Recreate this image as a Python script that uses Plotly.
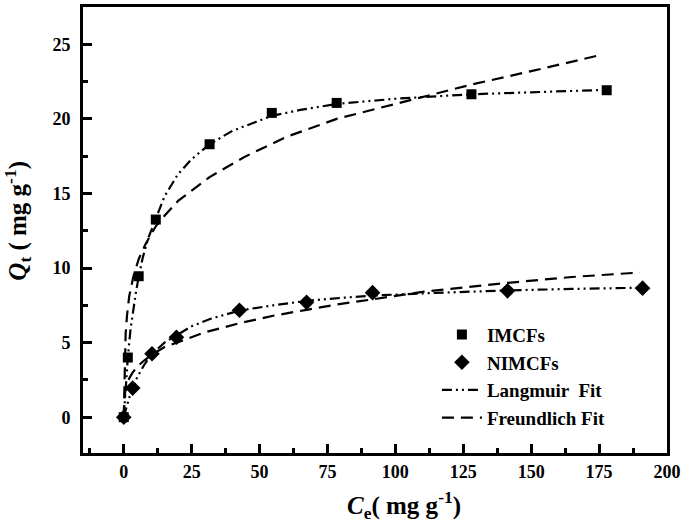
import plotly.graph_objects as go

# ---- data ----
ce_imcf = [0, 1.5, 5.5, 11.8, 31.6, 54.5, 78.4, 128, 177.8]
qt_imcf = [0, 4.0, 9.45, 13.25, 18.3, 20.4, 21.07, 21.65, 21.92]

ce_nimcf = [0, 3.3, 10.4, 19.4, 42.6, 67.3, 91.6, 141.3, 191]
qt_nimcf = [0, 1.95, 4.25, 5.36, 7.17, 7.7, 8.35, 8.47, 8.65]

# Langmuir fit curve (IMCFs)
lang_imcf_x = [0, 0.5, 1, 1.5, 2.5, 3.5, 4.5, 5.5, 7, 9, 11.8, 15, 20, 25, 31.6, 40,
               54.5, 65, 78.4, 100, 128, 150, 178]
lang_imcf_y = [0, 1.6, 2.9, 4.0, 5.9, 7.3, 8.4, 9.4, 10.7, 12.0, 13.3, 14.8, 16.3, 17.3,
               18.3, 19.2, 20.2, 20.6, 21.0, 21.35, 21.65, 21.8, 21.95]

# Freundlich fit curve (IMCFs)
freu_imcf_x = [0, 0.3, 0.7, 1.2, 2, 3.5, 5.5, 8, 11.8, 15, 20, 31.6, 45, 60, 78.4, 100,
               128, 150, 176]
freu_imcf_y = [0, 3.5, 5.6, 6.8, 8.1, 9.4, 10.6, 11.6, 12.8, 13.5, 14.5, 16.1, 17.5,
               18.8, 20.0, 21.0, 22.3, 23.2, 24.3]

# Langmuir fit curve (NIMCFs)
lang_nimcf_x = [0, 1, 2, 3.3, 5, 7.5, 10.4, 15, 19.5, 25, 32, 42.6, 55, 67.3, 80, 91.6,
                110, 141, 165, 191]
lang_nimcf_y = [0, 0.7, 1.3, 1.95, 2.7, 3.5, 4.25, 5.0, 5.5, 6.1, 6.6, 7.15, 7.5, 7.8,
                8.0, 8.15, 8.3, 8.5, 8.6, 8.68]

# Freundlich fit curve (NIMCFs)
freu_nimcf_x = [0, 0.5, 1, 2, 3.3, 5, 7.5, 10.4, 15, 20, 30, 42.6, 55, 67.3, 80, 91.6,
                110, 141, 165, 190]
freu_nimcf_y = [0, 1.7, 2.1, 2.6, 3.0, 3.4, 3.8, 4.2, 4.7, 5.05, 5.7, 6.3, 6.8, 7.2,
                7.6, 7.9, 8.4, 9.0, 9.4, 9.7]

x_ticks = [0, 25, 50, 75, 100, 125, 150, 175, 200]
y_ticks = [0, 5, 10, 15, 20, 25]

FONT = "Liberation Serif"
LANG_DASH = "10px,4px,2px,4px,2px,4px"
FREU_DASH = "12px,7px"

fig = go.Figure()

fig.add_trace(go.Scatter(x=lang_imcf_x, y=lang_imcf_y, mode="lines", name="<b>Langmuir  Fit</b>",
                         line=dict(color="black", width=2.2, dash=LANG_DASH),
                         legendgroup="lang", legendrank=3))
fig.add_trace(go.Scatter(x=lang_nimcf_x, y=lang_nimcf_y, mode="lines", name="<b>Langmuir  Fit</b>",
                         line=dict(color="black", width=2.2, dash=LANG_DASH),
                         legendgroup="lang", showlegend=False))
fig.add_trace(go.Scatter(x=freu_imcf_x, y=freu_imcf_y, mode="lines", name="<b>Freundlich Fit</b>",
                         line=dict(color="black", width=2.2, dash=FREU_DASH),
                         legendgroup="freu", legendrank=4))
fig.add_trace(go.Scatter(x=freu_nimcf_x, y=freu_nimcf_y, mode="lines", name="<b>Freundlich Fit</b>",
                         line=dict(color="black", width=2.2, dash=FREU_DASH),
                         legendgroup="freu", showlegend=False))
fig.add_trace(go.Scatter(x=ce_imcf, y=qt_imcf, mode="markers", name="<b>IMCFs</b>",
                         marker=dict(symbol="square", size=10, color="black"),
                         legendrank=1))
fig.add_trace(go.Scatter(x=ce_nimcf, y=qt_nimcf, mode="markers", name="<b>NIMCFs</b>",
                         marker=dict(symbol="diamond", size=12, color="black"),
                         legendrank=2))

axis_common = dict(showline=True, mirror=True, linecolor="black", linewidth=3,
                   ticks="inside", ticklen=9, tickwidth=2.5, tickcolor="black",
                   showgrid=False, zeroline=False,
                   tickfont=dict(family=FONT, size=18, color="black", weight="bold"))

fig.update_xaxes(range=[-15, 200], tickvals=x_ticks, ticktext=[str(v) for v in x_ticks],
                 minor=dict(ticks="inside", ticklen=5, tickwidth=2.5, dtick=12.5,
                            tick0=0, tickcolor="black"),
                 **axis_common)
fig.update_yaxes(range=[-2.4, 27.5], tickvals=y_ticks, ticktext=[str(v) for v in y_ticks],
                 minor=dict(ticks="inside", ticklen=5, tickwidth=2.5, dtick=2.5,
                            tick0=0, tickcolor="black"),
                 ticklabelstandoff=6,
                 **axis_common)

fig.update_layout(
    width=685, height=526,
    margin=dict(l=83, r=17, t=4, b=73),
    paper_bgcolor="white", plot_bgcolor="white",
    font=dict(family=FONT, color="black"),
    showlegend=True,
    legend=dict(x=0.606, y=0.308, xanchor="left", yanchor="top",
                font=dict(family=FONT, size=19, color="black"),
                bgcolor="rgba(0,0,0,0)", borderwidth=0,
                tracegroupgap=0, itemwidth=40),
    annotations=[
        dict(text="<b><i>C</i><sub>e</sub>( mg g<sup>-1</sup>)</b>",
             xref="paper", yref="paper", x=(405 - 83) / 585, y=(453 - 505) / 449,
             xanchor="center", yanchor="middle", showarrow=False,
             font=dict(family=FONT, size=25, color="black")),
        dict(text="<b><i>Q</i><sub>t</sub> ( mg g<sup>-1</sup>)</b>",
             xref="paper", yref="paper", x=(17 - 83) / 585, y=(453 - 219) / 449,
             xanchor="center", yanchor="middle", showarrow=False, textangle=-90,
             font=dict(family=FONT, size=25, color="black")),
    ],
)

fig.write_html("out.html", config={"displayModeBar": False},
               post_script="document.body.style.margin='0';document.body.style.padding='0';")
